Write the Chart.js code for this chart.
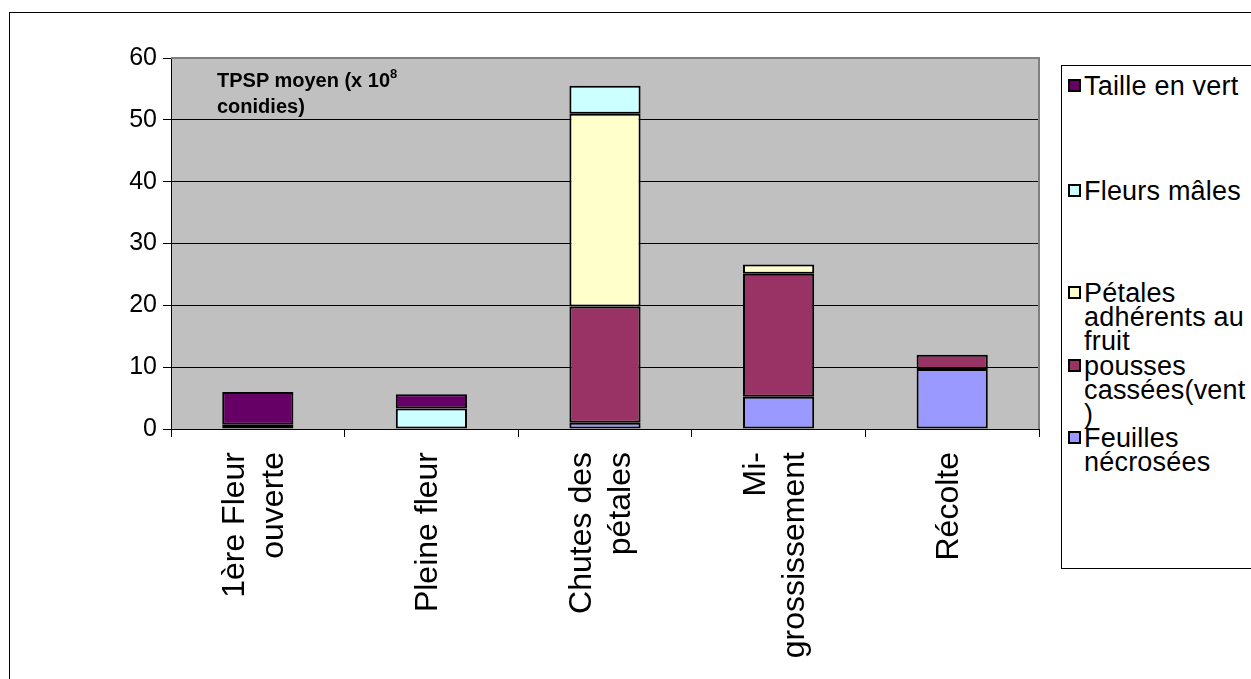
<!DOCTYPE html>
<html>
<head>
<meta charset="utf-8">
<script src="https://cdn.jsdelivr.net/npm/chart.js@4"></script>
<style>
  body { margin: 0; background: #fff; font-family: "Liberation Sans", Arial, sans-serif; }
  #wrap { position: relative; width: 1251px; height: 679px; overflow: hidden; }
  #title { position: absolute; left: 217px; top: 67px; font-weight: bold; font-size: 20px; line-height: 26px; color: #000; }
  #title sup { font-size: 13px; vertical-align: 9px; line-height: 0; }
  #legend { position: absolute; left: 1061px; top: 65px; width: 220px; height: 502px; border: 1px solid #000; background: #fff; }
  .item { position: absolute; left: 6px; font-size: 27px; line-height: 24px; color: #000; white-space: nowrap; letter-spacing: 0.2px; }
  .item .box { position: absolute; left: 0; top: 5px; width: 9px; height: 9px; border: 2px solid #000; }
  .item .txt { margin-left: 16px; display: block; }
</style>
</head>
<body>
<div id="wrap">
  <canvas id="chart" width="1251" height="679"></canvas>
  <div id="title">TPSP moyen (x 10<sup>8</sup><br>conidies)</div>
  <div id="legend"></div>
</div>
<script>
// stades (axe x)
const stades = [['1ère Fleur', 'ouverte'], ['Pleine fleur'], ['Chutes des', 'pétales'], ['Mi-', 'grossissement'], ['Récolte']];

// séries, de bas en haut dans la pile
const feuilles = [0, 0, 1.0, 5.2, 9.7];
const pousses = [0, 0, 18.8, 19.9, 2.3];
const petales = [0.7, 0, 31.2, 1.5, 0];
const fleurs = [0, 3.3, 4.5, 0, 0];
const taille = [5.3, 2.3, 0, 0, 0];

const yTicks = [0, 10, 20, 30, 40, 50, 60];

// legend text (wrapped like the original)
const legendText = {
    taille: ['Taille en vert'],
    fleurs: ['Fleurs mâles'],
    petales: ['Pétales', 'adhérents au', 'fruit'],
    pousses: ['pousses', 'cassées(vent', ')'],
    feuilles: ['Feuilles', 'nécrosées']
};

const bgPlugin = {
    id: 'bgPlugin',
    beforeDraw(chart) {
        const c = chart.ctx, a = chart.chartArea;
        c.save();
        c.fillStyle = '#fff';
        c.fillRect(0, 0, chart.width, chart.height);
        c.strokeStyle = '#000';
        c.lineWidth = 1;
        c.strokeRect(9.5, 12.5, chart.width + 20, chart.height + 20);
        c.fillStyle = '#C0C0C0';
        c.fillRect(a.left, a.top, a.right - a.left, a.bottom - a.top);
        c.restore();
    },
    afterDatasetsDraw(chart) {
        const c = chart.ctx, a = chart.chartArea;
        c.save();
        c.strokeStyle = '#808080';
        c.lineWidth = 2;
        c.beginPath();
        c.moveTo(a.left, a.top);
        c.lineTo(a.right, a.top);
        c.lineTo(a.right, a.bottom);
        c.stroke();
        c.restore();
    }
};

// x labels: rotated, end-aligned under the axis, lines centred on the category
const xLabelPlugin = {
    id: 'xLabelPlugin',
    afterDraw(chart) {
        const c = chart.ctx, xs = chart.scales.x;
        const lh = 39;
        c.save();
        c.fillStyle = '#000';
        c.font = '32px "Liberation Sans", Arial, sans-serif';
        c.textAlign = 'right';
        c.textBaseline = 'middle';
        chart.data.labels.forEach((lines, i) => {
            const x = xs.getPixelForValue(i);
            c.save();
            c.translate(x - 3, xs.top + 23);
            c.rotate(-Math.PI / 2);
            lines.forEach((t, j) => {
                c.fillText(t, 0, (j - (lines.length - 1) / 2) * lh);
            });
            c.restore();
        });
        c.restore();
    }
};

const ds = (label, key, data, color) => ({
    label: label, key: key, data: data,
    backgroundColor: color, borderColor: '#000', borderWidth: 2, borderSkipped: false,
    barPercentage: 0.41, categoryPercentage: 1
});

const ctx = document.getElementById('chart');
const chart = new Chart(ctx, {
    type: 'bar',
    data: {
        labels: stades,
        datasets: [
            ds('Feuilles nécrosées', 'feuilles', feuilles, '#9999FF'),
            ds('pousses cassées(vent)', 'pousses', pousses, '#993366'),
            ds('Pétales adhérents au fruit', 'petales', petales, '#FFFFCC'),
            ds('Fleurs mâles', 'fleurs', fleurs, '#CCFFFF'),
            ds('Taille en vert', 'taille', taille, '#660066')
        ]
    },
    options: {
        responsive: false,
        animation: false,
        layout: { padding: { left: 10, top: 58, right: 212, bottom: 0 } },
        plugins: { legend: { display: false }, tooltip: { enabled: false } },
        scales: {
            x: {
                stacked: true,
                grid: { drawOnChartArea: false, color: '#000', tickLength: 8 },
                border: { color: '#000' },
                ticks: { display: false },
                afterFit(scale) { scale.height = 250; }
            },
            y: {
                stacked: true, min: 0, max: 60,
                afterBuildTicks(scale) { scale.ticks = yTicks.map(v => ({ value: v })); },
                grid: { color: '#000', tickLength: 8 },
                border: { color: '#000' },
                ticks: { color: '#000', padding: 6, font: { family: 'Liberation Sans', size: 25 } },
                afterFit(scale) { scale.width = 161; }
            }
        }
    },
    plugins: [bgPlugin, xLabelPlugin]
});

// legend, same order as Excel (top of stack first)
const legendTops = [8, 113, 215, 288, 360];
const legendEl = document.getElementById('legend');
chart.data.datasets.slice().reverse().forEach((d, i) => {
    const item = document.createElement('div');
    item.className = 'item';
    item.style.top = legendTops[i] + 'px';
    const box = document.createElement('span');
    box.className = 'box';
    box.style.background = d.backgroundColor;
    const txt = document.createElement('span');
    txt.className = 'txt';
    txt.innerHTML = legendText[d.key].join('<br>');
    item.appendChild(box);
    item.appendChild(txt);
    legendEl.appendChild(item);
});
</script>
</body>
</html>
